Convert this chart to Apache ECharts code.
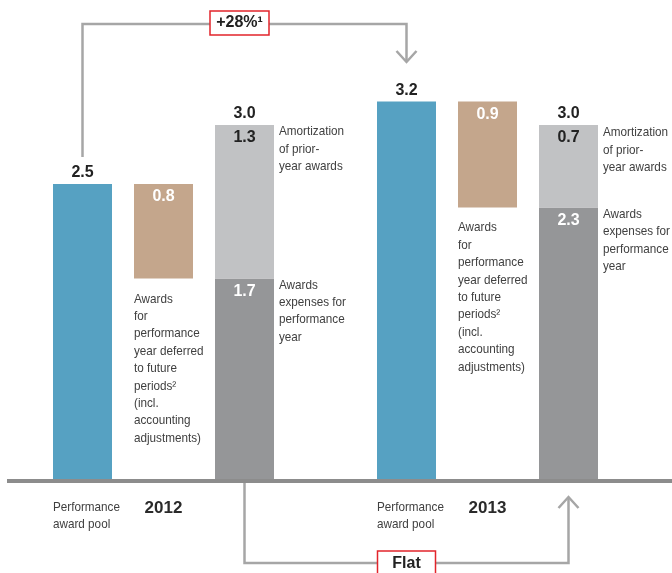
<!DOCTYPE html>
<html>
<head>
<meta charset="utf-8">
<script src="https://cdn.jsdelivr.net/npm/echarts@6/dist/echarts.min.js"></script>
<style>
  html, body { margin: 0; padding: 0; background: #fff; }
  #chart { width: 672px; height: 573px; }
</style>
</head>
<body>
<div id="chart"></div>
<script>
// 数据
const categories = ['pool2012', 'deferred2012', 'expense2012', 'gap', 'pool2013', 'deferred2013', 'expense2013']
const yearLabels = ['', '2012', '', '', '', '2013', '']
const poolValues = [2.5, '-', '-', '-', 3.2, '-', '-']
const deferredBase = ['-', 1.7, '-', '-', '-', 2.3, '-']
const deferredValues = ['-', 0.8, '-', '-', '-', 0.9, '-']
const currentYearValues = ['-', '-', 1.7, '-', '-', '-', 2.3]
const amortizationValues = ['-', '-', 1.3, '-', '-', '-', 0.7]
const totalValues = ['-', '-', 3.0, '-', '-', '-', 3.0]
const changeLabels = ['+28%¹', 'Flat']

const FONT = '"Liberation Sans", Arial, sans-serif'
const TEXT_COLOR = '#404040'

const chart = echarts.init(document.getElementById('chart'))

const valueLabel = (pos, color) => ({
  show: true,
  position: pos,
  distance: pos === 'top' ? 3 : 5,
  color: color,
  fontFamily: FONT,
  fontWeight: 'bold',
  fontSize: 16,
  formatter: p => Number(p.value).toFixed(1)
})

const option = {
  animation: false,
  grid: { left: 42, right: 63, top: 7, bottom: 94 },
  xAxis: {
    type: 'category',
    data: categories,
    axisLine: { show: false },
    axisTick: { show: false },
    axisLabel: {
      interval: 0,
      margin: 21,
      fontFamily: FONT,
      fontWeight: 'bold',
      fontSize: 17,
      color: '#2a2a2a',
      formatter: (v, i) => yearLabels[i]
    }
  },
  yAxis: { type: 'value', min: 0, max: 4, show: false },
  series: [
    {
      name: 'base', type: 'bar', stack: 'a', barWidth: 59,
      data: deferredBase,
      itemStyle: { color: 'transparent' }, silent: true
    },
    {
      name: 'pool', type: 'bar', stack: 'a', barWidth: 59,
      data: poolValues,
      itemStyle: { color: '#56a1c2' },
      label: valueLabel('top', '#222')
    },
    {
      name: 'deferred', type: 'bar', stack: 'a', barWidth: 59,
      data: deferredValues,
      itemStyle: { color: '#c4a68c' },
      label: valueLabel('insideTop', '#fff')
    },
    {
      name: 'current', type: 'bar', stack: 'a', barWidth: 59,
      data: currentYearValues,
      itemStyle: { color: '#959698' },
      label: valueLabel('insideTop', '#fff')
    },
    {
      name: 'amortization', type: 'bar', stack: 'a', barWidth: 59,
      data: amortizationValues,
      itemStyle: { color: '#c1c2c4' },
      label: valueLabel('insideTop', '#222')
    },
    {
      // 总计标签：堆叠在顶部的零高度柱
      name: 'total', type: 'bar', stack: 'a', barWidth: 59,
      data: totalValues.map(v => (v === '-' ? '-' : 0)),
      itemStyle: { color: 'transparent' },
      label: Object.assign(valueLabel('top', '#222'), {
        formatter: p => Number(totalValues[p.dataIndex]).toFixed(1)
      })
    }
  ]
}
chart.setOption(option)

// 注释文字和箭头
const px = (i, v) => chart.convertToPixel({ gridIndex: 0 }, [i, v])
const half = 29.5
const lh = 17.4

function textBlock(x, y, lines, lineHeight) {
  return {
    type: 'text',
    x: x, y: y,
    scaleX: 0.9,
    style: {
      x: 0, y: 0,
      text: lines.join('\n'),
      font: '13px ' + FONT,
      fill: TEXT_COLOR,
      lineHeight: lineHeight,
      verticalAlign: 'top'
    }
  }
}

function note(i, v, side, lines, dy) {
  const p = px(i, v)
  const x = side === 'right' ? p[0] + half + 5 : p[0] - half
  return textBlock(x, p[1] + dy, lines, lh)
}

const amortText = ['Amortization', 'of prior-', 'year awards']
const expenseText = ['Awards', 'expenses for', 'performance', 'year']
const deferredText = ['Awards', 'for', 'performance', 'year deferred', 'to future', 'periods²', '(incl.', 'accounting', 'adjustments)']

const x0 = px(0, 0)[0], x2 = px(2, 0)[0], x4 = px(4, 0)[0], x6 = px(6, 0)[0]
const base = px(0, 0)[1]
const lineStyle = { stroke: '#a6a6a6', lineWidth: 2.5, fill: null }

const graphics = [
  note(2, 3.0, 'right', amortText, -2),
  note(2, 1.7, 'right', expenseText, -2),
  note(1, 1.7, 'below', deferredText, 12),
  note(6, 3.0, 'right', amortText, -1),
  note(6, 2.3, 'right', expenseText, -2),
  note(5, 2.3, 'below', deferredText, 11.5),
  textBlock(x0 - half, base + 20, ['Performance', 'award pool'], 17),
  textBlock(x4 - half, base + 20, ['Performance', 'award pool'], 17),
  // 基线
  { type: 'rect', shape: { x: 7, y: base, width: 665, height: 4 }, style: { fill: '#8c8c8c' } },
  // 上方箭头
  { type: 'polyline', shape: { points: [[x0, 157], [x0, 24], [x4, 24], [x4, 62]] }, style: lineStyle },
  { type: 'polyline', shape: { points: [[x4 - 10, 51], [x4, 62], [x4 + 10, 51]] }, style: lineStyle },
  // 下方箭头
  { type: 'polyline', shape: { points: [[x2, base + 4], [x2, 563], [x6, 563], [x6, 497]] }, style: lineStyle },
  { type: 'polyline', shape: { points: [[x6 - 10, 508], [x6, 497], [x6 + 10, 508]] }, style: lineStyle },
  { type: 'rect', shape: { x: 210, y: 11, width: 59, height: 24 }, style: { fill: '#fff', stroke: '#e2242b', lineWidth: 1.5 } },
  {
    type: 'text',
    style: {
      x: 239.5, y: 23, text: changeLabels[0],
      font: 'bold 16px ' + FONT, fill: '#222', align: 'center', verticalAlign: 'middle'
    }
  },
  { type: 'rect', shape: { x: x4 - 29, y: 551, width: 58, height: 30 }, style: { fill: '#fff', stroke: '#e2242b', lineWidth: 1.5 } },
  {
    type: 'text',
    style: {
      x: x4, y: 564, text: changeLabels[1],
      font: 'bold 16px ' + FONT, fill: '#222', align: 'center', verticalAlign: 'middle'
    }
  }
]

chart.setOption({ graphic: graphics })

window.addEventListener('resize', () => {
  chart.resize()
})
</script>
</body>
</html>
